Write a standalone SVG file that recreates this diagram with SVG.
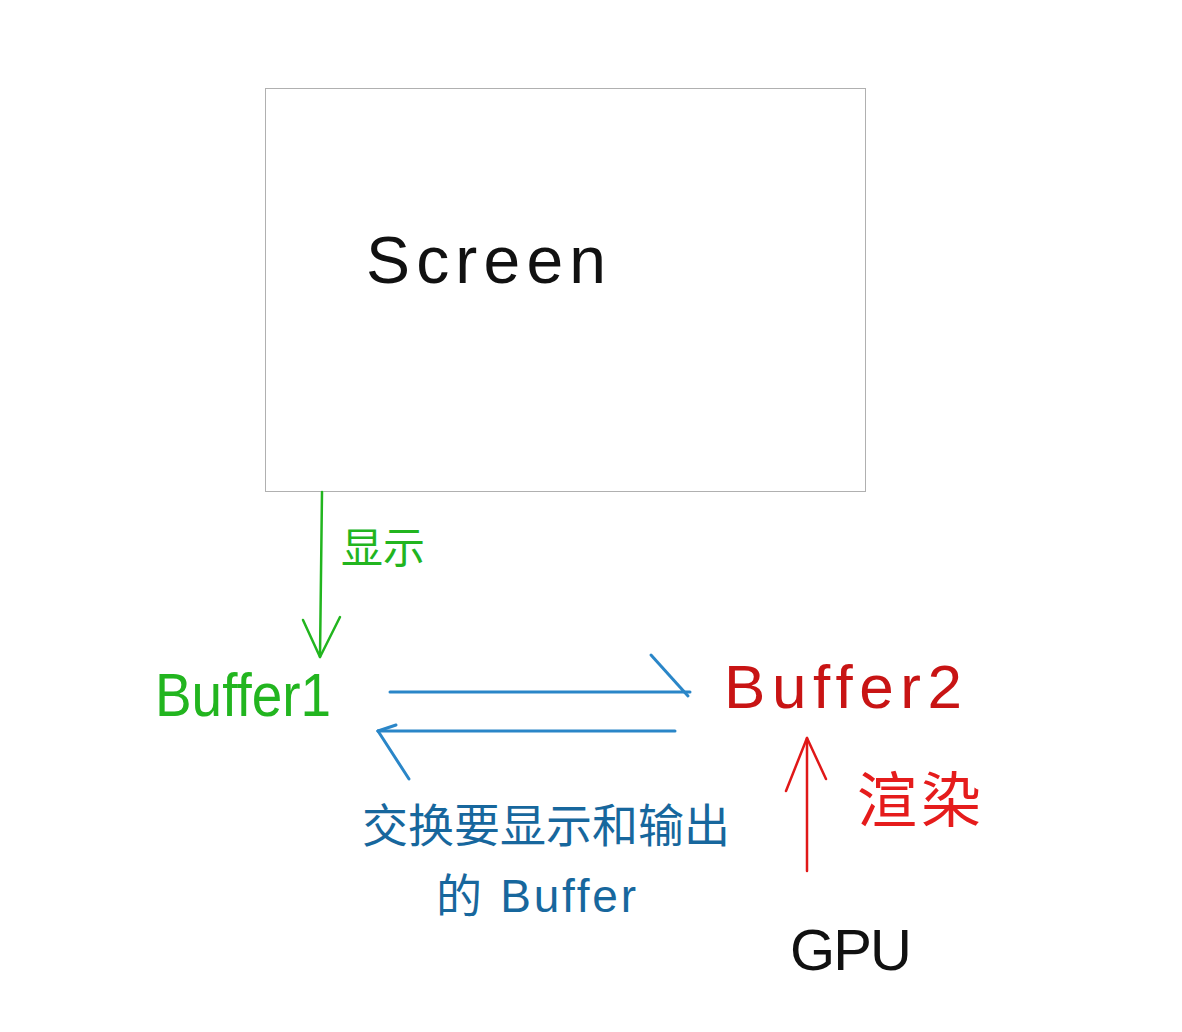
<svg xmlns="http://www.w3.org/2000/svg" width="1182" height="1032" viewBox="0 0 1182 1032">
<style>
text{font-family:"Liberation Sans","Noto Sans CJK SC",sans-serif;}
.g{fill:#22b51f}
.b{fill:#17679d}
.r{fill:#c81414}
.rr{fill:#e51c1c}
.k{fill:#111}
.ln{fill:none;stroke-linecap:round;stroke-linejoin:round}
</style>
<rect width="1182" height="1032" fill="#fff"/>
<g id="screen">
<rect x="265.5" y="88.5" width="600" height="403" fill="none" stroke="#b0b0b0" stroke-width="1"/>
<text class="k" x="366" y="283" font-size="66" textLength="240" lengthAdjust="spacing">Screen</text>
</g>
<g id="buffer1">
<text class="g" x="155" y="716" font-size="62" textLength="176" lengthAdjust="spacingAndGlyphs">Buffer1</text>
</g>
<g id="buffer2">
<text class="r" x="724" y="708" font-size="62" textLength="238" lengthAdjust="spacing">Buffer2</text>
</g>
<g id="gpu">
<text class="k" x="790" y="970" font-size="58" textLength="122" lengthAdjust="spacing">GPU</text>
</g>
<g id="connectors">
<g stroke="#22b51f" stroke-width="2.5" class="ln">
<path d="M322 492 L320 657"/>
<path d="M303 620 L320 657 L340 617"/>
</g>
<g stroke="#2a86c8" stroke-width="3" class="ln">
<path d="M390 692 L690 692"/>
<path d="M651 655 L688 696"/>
<path d="M675 731 L378 731"/>
<path d="M378 731 L409 779"/>
<path d="M378 731 L396 725"/>
</g>
<g stroke="#e01818" stroke-width="2.5" class="ln">
<path d="M807 871 L807 738"/>
<path d="M786 791 L807 738 L826 779"/>
</g>
<text class="g" x="341" y="563" font-size="42">显示</text>
<text class="b" x="362" y="842" font-size="46" textLength="368" lengthAdjust="spacing">交换要显示和输出</text>
<text class="b" x="436" y="912" font-size="46" textLength="200" lengthAdjust="spacing">的 Buffer</text>
<text class="rr" x="857" y="822" font-size="60" textLength="124" lengthAdjust="spacing">渲染</text>
</g>
</svg>
